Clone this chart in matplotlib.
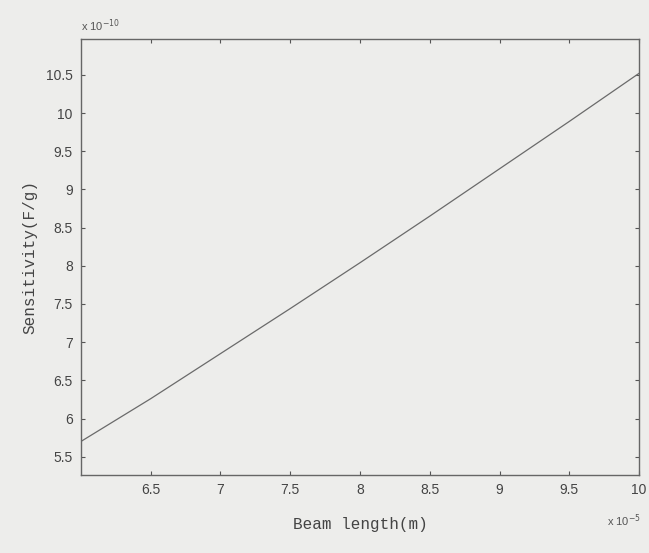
import numpy as np
import matplotlib.pyplot as plt

# beam length (x 1e-5 m) and sensitivity (x 1e-10 F/g)
beam_len = [6.0, 6.5, 7.0, 7.5, 8.0, 8.5, 9.0, 9.5, 10.0]
sens = [5.70, 6.26, 6.85, 7.44, 8.04, 8.65, 9.27, 9.89, 10.52]

xticks = [6.5, 7, 7.5, 8, 8.5, 9, 9.5, 10]
yticks = [5.5, 6, 6.5, 7, 7.5, 8, 8.5, 9, 9.5, 10, 10.5]

bg = '#ededeb'
ink = '#555555'

fig = plt.figure(figsize=(6.49, 5.53), dpi=100, facecolor=bg)
ax = fig.add_axes([0.1248, 0.141, 0.8598, 0.7885])
ax.set_facecolor(bg)

ax.plot(beam_len, sens, color='#6a6a6a', lw=0.9)

ax.set_xlim(6.0, 10.0)
ax.set_ylim(5.26, 10.97)
ax.set_xticks(xticks)
ax.set_xticklabels(['6.5', '7', '7.5', '8', '8.5', '9', '9.5', '10'])
ax.set_yticks(yticks)
ax.set_yticklabels(['5.5', '6', '6.5', '7', '7.5', '8', '8.5', '9', '9.5', '10', '10.5'])

ax.tick_params(direction='in', top=True, right=True, length=3, width=0.8,
               colors=ink, labelsize=10, pad=6)
for lab in ax.get_xticklabels() + ax.get_yticklabels():
    lab.set_family('Liberation Sans')
    lab.set_color('#444444')
for s in ax.spines.values():
    s.set_color('#666666')
    s.set_linewidth(1.0)

ax.set_xlabel('Beam length(m)', family='Liberation Mono', fontsize=11.5,
              color='#444444', labelpad=14)
ax.set_ylabel('Sensitivity(F/g)', family='Liberation Mono', fontsize=11.5,
              color='#444444', labelpad=6)

# exponent labels, MATLAB style
ax.text(0.0, 1.012, r'x 10$^{-10}$', transform=ax.transAxes, fontsize=8,
        color='#555555', family='Liberation Sans', ha='left', va='bottom')
ax.text(1.003, -0.085, r'x 10$^{-5}$', transform=ax.transAxes, fontsize=8,
        color='#555555', family='Liberation Sans', ha='right', va='top')

fig.savefig('out.png', dpi=100, facecolor=bg)
